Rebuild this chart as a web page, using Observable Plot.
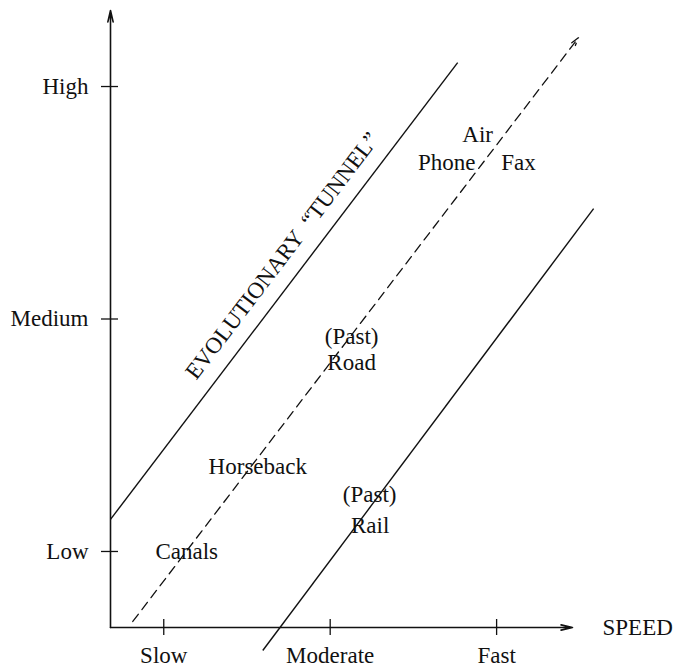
<!DOCTYPE html>
<html>
<head>
<meta charset="utf-8">
<script src="https://cdn.jsdelivr.net/npm/d3@7"></script>
<script src="https://cdn.jsdelivr.net/npm/@observablehq/plot@0.6"></script>
<style>
  html, body { margin: 0; padding: 0; background: #fff; }
</style>
</head>
<body>
<div id="chart"></div>
<script>
// ---- data ----
const speedTicks = [1, 2, 3];
const speedLabels = ["Slow", "Moderate", "Fast"];
const levelTicks = [1, 2, 3];
const levelLabels = ["Low", "Medium", "High"];
const xDomain = [0.68, 3.456];
const yDomain = [0.673, 3.327];

// tunnel boundaries and central trend
const upperBoundary = [{x1: 0.68, y1: 1.138, x2: 2.766, y2: 3.103}];
const lowerBoundary = [{x1: 1.595, y1: 0.574, x2: 3.583, y2: 2.475}];
const trendLine = [{x1: 0.814, y1: 0.699, x2: 3.493, y2: 3.211}];

// transport modes placed in the tunnel
const modeNames = ["Canals", "Horseback", "(Past)", "Road", "(Past)", "Rail", "Air", "Phone", "Fax"];
const modeX = [1.138, 1.565, 2.129, 2.129, 2.237, 2.240, 2.886, 2.70, 3.132];
const modeY = [1.0, 1.366, 1.925, 1.811, 1.245, 1.112, 2.794, 2.673, 2.673];

const tunnelTitle = "EVOLUTIONARY  \u201CTUNNEL\u201D";
const tunnelPos = [{x: 1.712, y: 2.272}];
const axisTitle = "SPEED";

const modes = modeNames.map((name, i) => ({name, x: modeX[i], y: modeY[i]}));
const axes = [
  {x1: xDomain[0], y1: yDomain[0], x2: xDomain[1], y2: yDomain[0]},
  {x1: xDomain[0], y1: yDomain[0], x2: xDomain[0], y2: yDomain[1]}
];

const ink = "#111";
const font = "'Liberation Serif', 'Times New Roman', serif";

const chart = Plot.plot({
  width: 675,
  height: 670,
  marginLeft: 110,
  marginRight: 103,
  marginTop: 10,
  marginBottom: 43,
  style: {fontFamily: font, fontSize: "23px", color: ink, background: "#fff", overflow: "visible"},
  x: {domain: xDomain, label: null, axis: null},
  y: {domain: yDomain, label: null, axis: null},
  marks: [
    // axes with arrowheads
    Plot.arrow(axes, {x1: "x1", y1: "y1", x2: "x2", y2: "y2", stroke: ink, strokeWidth: 1.6, headLength: 11, headAngle: 26}),
    // tick crosses
    Plot.ruleY(levelTicks, {y: d => d, x1: xDomain[0], x2: xDomain[0], insetLeft: -9, insetRight: -8, stroke: ink, strokeWidth: 1.3}),
    Plot.ruleX(speedTicks, {x: d => d, y1: yDomain[0], y2: yDomain[0], insetTop: -8, insetBottom: -8, stroke: ink, strokeWidth: 1.3}),
    // tick labels through library axes
    Plot.axisY(levelTicks, {tickSize: 0, tickPadding: 22, tickFormat: d => levelLabels[levelTicks.indexOf(d)], fontSize: 23, fill: ink}),
    Plot.axisX(speedTicks, {tickSize: 0, tickPadding: 19, tickFormat: d => speedLabels[speedTicks.indexOf(d)], fontSize: 23, fill: ink}),
    Plot.text([axisTitle], {x: xDomain[1], y: yDomain[0], text: d => d, dx: 30, textAnchor: "start", fontSize: 23, fill: ink}),
    // tunnel walls
    Plot.link(upperBoundary, {x1: "x1", y1: "y1", x2: "x2", y2: "y2", stroke: ink, strokeWidth: 1.4}),
    Plot.link(lowerBoundary, {x1: "x1", y1: "y1", x2: "x2", y2: "y2", stroke: ink, strokeWidth: 1.4}),
    // central trend
    Plot.arrow(trendLine, {x1: "x1", y1: "y1", x2: "x2", y2: "y2", stroke: ink, strokeWidth: 1.3, strokeDasharray: "9,6", headLength: 10, headAngle: 30}),
    // labels
    Plot.text(modes, {x: "x", y: "y", text: "name", fontSize: 23, fill: ink}),
    Plot.text(tunnelPos, {x: "x", y: "y", text: () => tunnelTitle, rotate: -52.7, fontSize: 23, fill: ink})
  ]
});
document.getElementById("chart").appendChild(chart);
</script>
</body>
</html>
